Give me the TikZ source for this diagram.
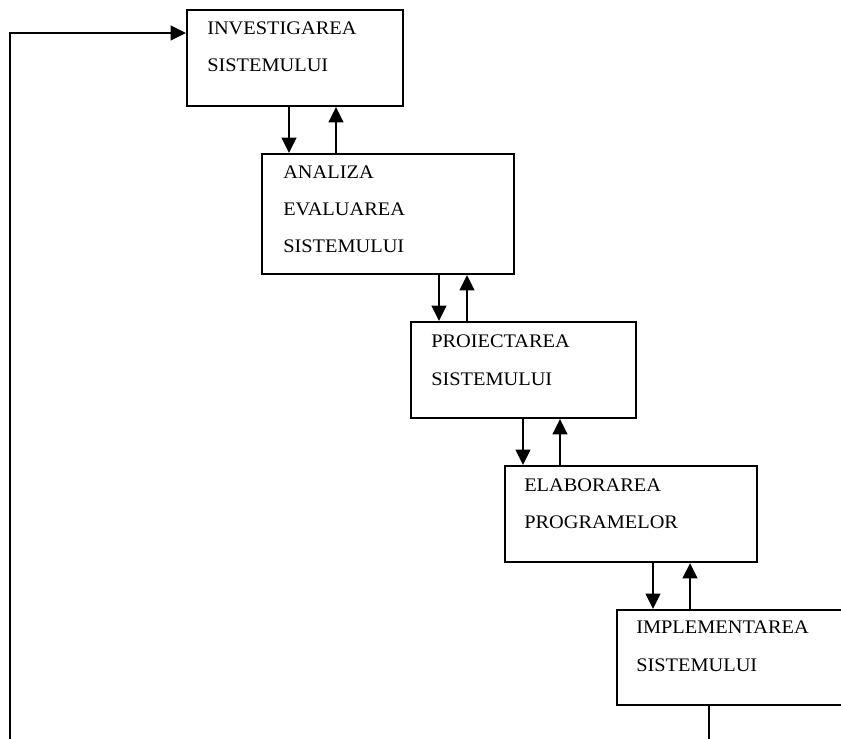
\documentclass[tikz,border=0pt]{standalone}
\usepackage{fontspec}
\setmainfont{Liberation Serif}
\usetikzlibrary{arrows.meta}

% slightly widened caption lettering
\newcommand\widetxt[1]{\scalebox{1.06}[1]{#1}}

\begin{document}
\begin{tikzpicture}[x=0.75pt, y=-0.75pt,
  stage/.style={draw, line width=1.6pt, anchor=north west, inner sep=0pt, fill=white},
  caption/.style={anchor=base west, inner sep=0pt, font=\fontsize{14.4}{17}\selectfont},
  flow/.style={line width=1.6pt, -{Triangle[length=11.5pt, width=11pt]}},
  plain/.style={line width=1.6pt}]
  \useasboundingbox (0,0) rectangle (841,738);
  \clip (0,0) rectangle (841,738);
  \fill[white] (0,0) rectangle (841,738);

  % stages of the development cycle
  \node[stage, minimum width=162pt, minimum height=72pt] (inv) at (186,9) {};
  \node[stage, minimum width=189pt, minimum height=90pt] (ana) at (261,153) {};
  \node[stage, minimum width=168.75pt, minimum height=72pt] (pro) at (410,321) {};
  \node[stage, minimum width=189pt, minimum height=72pt] (ela) at (504,465) {};
  \node[stage, minimum width=213pt, minimum height=71.25pt] (imp) at (616,609) {};

  % captions
  \node[caption] (inv1) at (207,35) {\widetxt{INVESTIGAREA}};
  \node[caption] (inv2) at (207,72) {\widetxt{SISTEMULUI}};
  \node[caption] (ana1) at (283,178) {\widetxt{ANALIZA}};
  \node[caption] (ana2) at (283,215) {\widetxt{EVALUAREA}};
  \node[caption] (ana3) at (283,252) {\widetxt{SISTEMULUI}};
  \node[caption] (pro1) at (431,347) {\widetxt{PROIECTAREA}};
  \node[caption] (pro2) at (431,385) {\widetxt{SISTEMULUI}};
  \node[caption] (ela1) at (524,491) {\widetxt{ELABORAREA}};
  \node[caption] (ela2) at (524,528) {\widetxt{PROGRAMELOR}};
  \node[caption] (imp1) at (636,633) {\widetxt{IMPLEMENTAREA}};
  \node[caption] (imp2) at (636,671) {\widetxt{SISTEMULUI}};

  % columns of the forward / backward links
  \coordinate (d1) at (289,0);  \coordinate (u1) at (336,0);
  \coordinate (d2) at (439,0);  \coordinate (u2) at (467,0);
  \coordinate (d3) at (523,0);  \coordinate (u3) at (560,0);
  \coordinate (d4) at (653,0);  \coordinate (u4) at (690,0);

  \draw[flow] (d1 |- inv.south) -- (d1 |- ana.north);
  \draw[flow] (u1 |- ana.north) -- (u1 |- inv.south);
  \draw[flow] (d2 |- ana.south) -- (d2 |- pro.north);
  \draw[flow] (u2 |- pro.north) -- (u2 |- ana.south);
  \draw[flow] (d3 |- pro.south) -- (d3 |- ela.north);
  \draw[flow] (u3 |- ela.north) -- (u3 |- pro.south);
  \draw[flow] (d4 |- ela.south) -- (d4 |- imp.north);
  \draw[flow] (u4 |- imp.north) -- (u4 |- ela.south);

  % feedback loop back to the first stage
  \coordinate (fbx) at (709,0);
  \coordinate (fbbottom) at (709,760);
  \coordinate (fbleft) at (10,33);
  \draw[flow] (fbx |- imp.south) -- (fbbottom) -| (fbleft) -- (inv.west |- fbleft);
\end{tikzpicture}
\end{document}
